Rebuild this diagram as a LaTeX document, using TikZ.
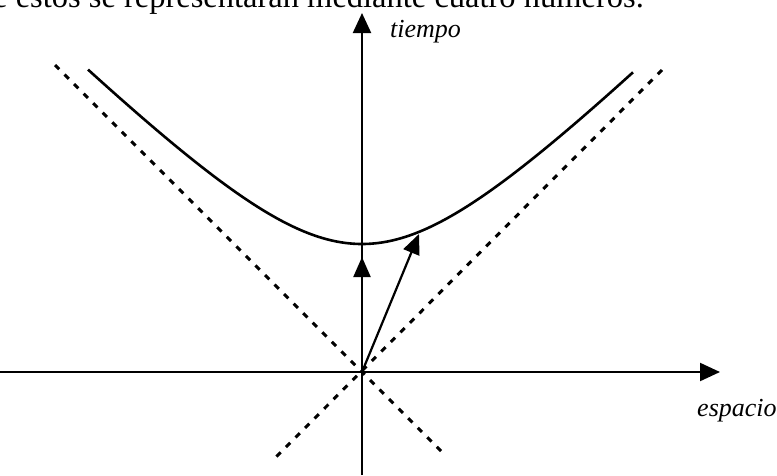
\documentclass[tikz,border=0pt]{standalone}
\usepackage{fontspec}
\setmainfont{Liberation Serif}
\usetikzlibrary{arrows.meta}
\begin{document}
\begin{tikzpicture}[x=1pt,y=-1pt,
  axis/.style={line width=2.2pt,-{Triangle[length=20pt,width=18pt]}},
  vec/.style={line width=2.2pt,-{Triangle[length=20pt,width=17pt]}},
  asym/.style={line width=3pt,dash pattern=on 6pt off 7.5pt},
  curve/.style={line width=2.6pt},
  lbl/.style={font=\fontsize{26}{30}\selectfont\itshape,inner sep=0pt,anchor=base west},
  toptext/.style={font=\fontsize{32.5}{36}\selectfont,inner sep=0pt,anchor=base west}]
\useasboundingbox (0,0) rectangle (777,475);
\clip (0,0) rectangle (777,475);
\fill[white] (0,0) rectangle (777,475);
% coordinates
\coordinate (O) at (362,372);
\coordinate (xs) at (0,372);
\coordinate (xe) at (720,372);
\coordinate (ys) at (362,475);
\coordinate (ye) at (362,13);
\coordinate (d1a) at (55,65);
\coordinate (d1b) at (445,455);
\coordinate (d2a) at (662,70);
\coordinate (d2b) at (273,460);
\coordinate (v1) at (362,257);
\coordinate (v2) at (419,234);
% top text (cut by the frame, as in the reference)
\node[toptext] (top) at (-7,7) {e estos se representarán mediante cuatro números.};
% asymptotes
\draw[asym] (d1a) -- (d1b);
\draw[asym] (d2a) -- (d2b);
% axes
\draw[axis] (xs) -- (xe);
\draw[axis] (ys) -- (ye);
% hyperbola
\draw[curve] plot[domain=88:633,samples=120,smooth] ({\x},{372-100*sqrt(1.6384+(\x/100-3.62)^2)});
% vectors
\draw[vec] (O) -- (v1);
\draw[vec] (O) -- (v2);
% labels
\node[lbl] (tiempo) at (390,37) {tiempo};
\node[lbl] (espacio) at (697,416) {espacio};
\end{tikzpicture}
\end{document}
